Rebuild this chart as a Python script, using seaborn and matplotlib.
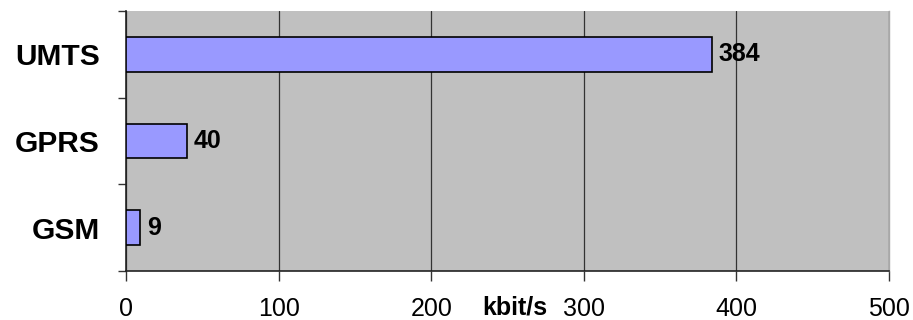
import matplotlib
matplotlib.use("Agg")
import matplotlib.pyplot as plt
from matplotlib.ticker import FixedLocator
import pandas as pd
import seaborn as sns

# Data rates of mobile network standards
standards = ["UMTS", "GPRS", "GSM"]
rates_kbit = [384, 40, 9]
x_ticks = [0, 100, 200, 300, 400, 500]
x_label = "kbit/s"

df = pd.DataFrame({"standard": standards, "rate": rates_kbit})

sns.set_theme(style="white")
plt.rcParams["font.family"] = ["Liberation Sans", "DejaVu Sans"]
plt.rcParams["text.color"] = "black"
plt.rcParams["xtick.labelcolor"] = "black"
plt.rcParams["ytick.labelcolor"] = "black"
plt.rcParams["axes.labelcolor"] = "black"

fig = plt.figure(figsize=(9.13, 3.2), dpi=100)
ax = fig.add_axes([0.138, 0.153, 0.9737 - 0.138, 0.9656 - 0.153])
ax.set_facecolor("#C0C0C0")

sns.barplot(data=df, x="rate", y="standard", orient="h", ax=ax,
            color="#9999FF", saturation=1, width=0.4,
            edgecolor="black", linewidth=1.2, zorder=3)

ax.set_xlim(0, 500)
ax.set_ylim(2.5, -0.5)
ax.set_xticks(x_ticks)
ax.set_xticklabels([str(t) for t in x_ticks], fontsize=18, color="black")
ax.tick_params(axis="x", length=7, width=1, color="#333333", pad=12,
               direction="out", bottom=True)

# vertical grid lines
ax.grid(axis="x", color="#333333", linewidth=0.9, zorder=1)
ax.grid(axis="y", visible=False)
ax.set_axisbelow(True)

# category labels centred, tick marks at category boundaries
ax.set_yticks(range(len(standards)))
ax.set_yticklabels(standards, fontsize=21.5, fontweight="bold", color="black")
ax.yaxis.set_minor_locator(FixedLocator([-0.5, 0.5, 1.5, 2.5]))
ax.tick_params(axis="y", which="major", length=0, pad=19)
ax.tick_params(axis="y", which="minor", length=6, width=1, color="#333333",
               left=True, direction="out")

for side in ("left", "bottom"):
    ax.spines[side].set_color("#222222")
    ax.spines[side].set_linewidth(1.2)
ax.spines["top"].set_visible(False)
ax.spines["right"].set_color("#A8A8A8")
ax.spines["right"].set_linewidth(1.0)

ax.set_ylabel("")
ax.set_xlabel(x_label, fontsize=18, fontweight="bold", color="black")
ax.xaxis.set_label_coords(0.51, -0.095)
ax.xaxis.label.set_va("top")

for container in ax.containers:
    ax.bar_label(container, labels=[str(v) for v in rates_kbit],
                 padding=5, fontsize=18, fontweight="bold", color="black")

fig.savefig("out.png", dpi=100)
